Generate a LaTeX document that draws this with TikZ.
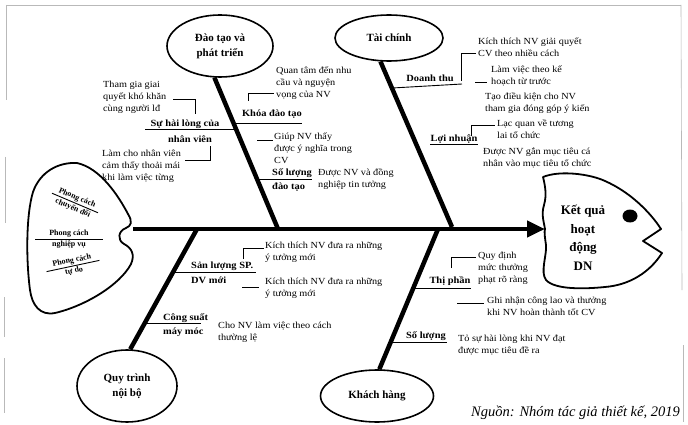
\documentclass[tikz,border=0pt]{standalone}
\usepackage{fontspec}
\setmainfont{Liberation Serif}
\newfontfamily\notefont[FakeStretch=1.1]{Liberation Serif}
\usetikzlibrary{shapes.geometric,arrows.meta}
\begin{document}
\begin{tikzpicture}[x=1pt,y=-1pt,
  bone/.style={line width=4.5pt},
  twig/.style={line width=0.9pt},
  conn/.style={line width=0.7pt},
  outline/.style={line width=1.8pt, line join=round},
  cat/.style={draw, line width=1.6pt, ellipse, inner sep=0pt, align=center, font=\fontsize{11}{15}\selectfont\bfseries},
  lbl/.style={inner sep=0pt, font=\notefont\fontsize{9.5}{11}\selectfont\bfseries},
  note/.style={inner sep=0pt, align=left, anchor=north west, font=\notefont\fontsize{9.3}{12}\selectfont},
  tailtxt/.style={inner sep=1.5pt, transform shape, font=\fontsize{8}{9}\selectfont\bfseries},
  frameline/.style={gray!55, line width=0.6pt}
]
\fill[white] (0,0) rectangle (688,425);
\useasboundingbox (0,0) rectangle (688,425);

% scan frame remnants
\draw[frameline] (6,5) -- (681,5);
\draw[frameline] (6,5) -- (6,100);
\draw[frameline] (5,157) -- (5,223);
\draw[frameline] (4,297) -- (4,337);
\draw[frameline] (4,358) -- (4,413);
\draw[frameline] (681,5) -- (682,290);
\draw[frameline] (683,345) -- (683,422);

% category ellipses
\node[cat, minimum width=106pt, minimum height=62pt] (dt) at (220,46) {Đào tạo và\\phát triển};
\node[cat, minimum width=108pt, minimum height=46pt] (tc) at (389,38) {Tài chính};
\node[cat, minimum width=100pt, minimum height=72pt] (qt) at (127,386) {Quy trình\\nội bộ};
\node[cat, minimum width=113pt, minimum height=52pt] (kh) at (377,396) {Khách hàng};

% tail
\draw[outline] (77,163) .. controls (100,168) and (118,195) .. (128,214)
  .. controls (133,222) and (131,226) .. (126,228)
  .. controls (118,231) and (117,240) .. (124,244)
  .. controls (132,248) and (135,255) .. (131,264)
  .. controls (120,285) and (85,306) .. (55,313)
  .. controls (40,316) and (32,305) .. (30,290)
  .. controls (26,260) and (26,215) .. (33,192)
  .. controls (40,172) and (58,162) .. (77,163) -- cycle;

\begin{scope}[shift={(75,203)}, rotate=-23]
  \coordinate (t1l) at (-25,0); \coordinate (t1r) at (25,0);
  \draw[twig] (t1l) -- (t1r);
  \node[tailtxt, anchor=south] (t1a) at (0,0) {Phong cách};
  \node[tailtxt, anchor=north] (t1b) at (0,0) {chuyển đổi};
\end{scope}
\begin{scope}[shift={(69,239)}]
  \coordinate (t2l) at (-34,0); \coordinate (t2r) at (34,0);
  \draw[twig] (t2l) -- (t2r);
  \node[tailtxt, anchor=south] (t2a) at (0,0) {Phong cách};
  \node[tailtxt, anchor=north] (t2b) at (0,0) {nghiệp vụ};
\end{scope}
\begin{scope}[shift={(73,266)}, rotate=12]
  \coordinate (t3l) at (-27,0); \coordinate (t3r) at (27,0);
  \draw[twig] (t3l) -- (t3r);
  \node[tailtxt, anchor=south] (t3a) at (0,0) {Phong cách};
  \node[tailtxt, anchor=north] (t3b) at (0,0) {tự do};
\end{scope}

% head
\draw[outline] (543,177) .. controls (560,170) and (590,174) .. (605,181)
  .. controls (630,192) and (650,212) .. (661,229) -- (643,241) -- (662,253)
  .. controls (650,272) and (630,285) .. (605,287)
  .. controls (585,289) and (555,290) .. (546,280)
  .. controls (540,272) and (547,255) .. (546,245)
  .. controls (545,238) and (544,232) .. (545,229)
  .. controls (544,222) and (541,215) .. (544,205)
  .. controls (547,195) and (545,185) .. (543,177) -- cycle;
\fill (630,216) ellipse [x radius=7.5pt, y radius=6.5pt];
\node[align=center, inner sep=0pt, font=\fontsize{13}{18.5}\selectfont\bfseries] (res) at (583,238) {Kết quả\\hoạt\\động\\DN};

% spine
\coordinate (tailend) at (133,229);
\coordinate (headtip) at (545,229);
\draw[line width=4.5pt, -{Triangle[length=18pt,width=16pt]}] (tailend) -- (headtip);

% bones
\coordinate (sA) at (278,229);
\coordinate (sB) at (452,227);
\coordinate (sC) at (197,229);
\coordinate (sD) at (438,229);
\draw[bone] (dt.-100) -- (sA);
\draw[bone] (tc.-110) -- (sB);
\draw[bone] (sC) -- (qt.85);
\draw[bone] (sD) -- (kh.85);

% twigs
\coordinate (a1) at (236.4,129); \coordinate (a1e) at (145,129);
\coordinate (a2) at (233.8,123); \coordinate (a2e) at (302,123);
\coordinate (a3) at (257.2,179); \coordinate (a3e) at (312,179);
\coordinate (b1) at (392.4,88); \coordinate (b1e) at (462,84);
\coordinate (c1) at (173.2,272); \coordinate (c1e) at (256,272);
\coordinate (c2) at (145,323); \coordinate (c2e) at (201,323);
\coordinate (d1) at (413.5,288); \coordinate (d1e) at (471,288);
\coordinate (d2) at (391,342); \coordinate (d2e) at (447,342);
\draw[twig] (a1) -- (a1e);
\draw[twig] (a2) -- (a2e);
\draw[twig] (a3) -- (a3e);
\draw[twig] (b1) -- (b1e);
\draw[twig] (c1) -- (c1e);
\draw[twig] (c2) -- (c2e);
\draw[twig] (d1) -- (d1e);
\draw[twig] (d2) -- (d2e);

% branch labels
\node[lbl] (L1a) at (185,124) {Sự hài lòng của};
\node[lbl] (L1b) at (190,139) {nhân viên};
\node[lbl] (L2) at (272,114) {Khóa đào tạo};
\node[lbl, anchor=west] (L3a) at (272,173) {Số lượng};
\node[lbl, anchor=west] (L3b) at (272,187) {đào tạo};
\node[lbl] (L4) at (430,78) {Doanh thu};
\node[lbl] (L5) at (454,139) {Lợi nhuận};
\draw[twig] ([yshift=-1pt]L5.south west) -- ([yshift=-1pt]L5.south east);
\node[lbl, anchor=west] (L6a) at (191,266) {Sản lượng SP.};
\node[lbl, anchor=west] (L6b) at (191,280) {DV mới};
\node[lbl, anchor=west] (L7a) at (163,318) {Công suất};
\node[lbl, anchor=west] (L7b) at (163,332) {máy móc};
\node[lbl] (L8) at (450,281) {Thị phần};
\node[lbl] (L9) at (426,336) {Số lượng};

% notes
\node[note] (n1) at (103,81) {Tham gia giai\\quyết khó khăn\\cùng người lđ};
\node[note] (n2) at (102,150) {Làm cho nhân viên\\cảm thấy thoải mái\\khi làm việc từng};
\node[note] (n3) at (276,67) {Quan tâm đến nhu\\cầu và nguyện\\vọng của NV};
\node[note] (n4) at (274,133) {Giúp NV thấy\\được ý nghĩa trong\\CV};
\node[note] (n5) at (318,169) {Được NV và đồng\\nghiệp tin tưởng};
\node[note] (n6) at (478,38) {Kích thích NV giải quyết\\CV theo nhiều cách};
\node[note] (n7) at (491,66) {Làm việc theo kế\\hoạch từ trước};
\node[note] (n8) at (485,93) {Tạo điều kiện cho NV\\tham gia đóng góp ý kiến};
\node[note] (n9) at (497,120) {Lạc quan về tương\\lai tổ chức};
\node[note] (n10) at (483,148) {Được NV gắn mục tiêu cá\\nhân vào mục tiêu tổ chức};
\node[note] (n11) at (265,242) {Kích thích NV đưa ra những\\ý tưởng mới};
\node[note] (n12) at (265,278) {Kích thích NV đưa ra những\\ý tưởng mới};
\node[note] (n13) at (218,322) {Cho NV làm việc theo cách\\thường lệ};
\node[note] (n14) at (478,252) {Quy định\\mức thưởng\\phạt rõ ràng};
\node[note] (n15) at (487,297) {Ghi nhận công lao và thưởng\\khi NV hoàn thành tốt CV};
\node[note] (n16) at (458,335) {Tỏ sự hài lòng khi NV đạt\\được mục tiêu đề ra};

% connectors
\coordinate (k1a) at (173,99); \coordinate (k1b) at (195,99); \coordinate (k1c) at (195,114);
\draw[conn] (k1a) -- (k1b) -- (k1c);
\coordinate (k2a) at (185,160); \coordinate (k2b) at (210,160); \coordinate (k2c) at (210,146);
\draw[conn] (k2a) -- (k2b) -- (k2c);
\coordinate (k3a) at (248,101); \coordinate (k3b) at (248,93); \coordinate (k3c) at (274,93);
\draw[conn] (k3a) -- (k3b) -- (k3c);
\coordinate (k4a) at (257,140); \coordinate (k4b) at (273,140);
\draw[conn] (k4a) -- (k4b);
\coordinate (k5a) at (476,53); \coordinate (k5b) at (461,53); \coordinate (k5c) at (461,81);
\draw[conn] (k5a) -- (k5b) -- (k5c);
\coordinate (k6a) at (475,82); \coordinate (k6b) at (487,82);
\draw[conn] (k6a) -- (k6b);
\coordinate (k7a) at (471,136); \coordinate (k7b) at (471,125); \coordinate (k7c) at (495,125);
\draw[conn] (k7a) -- (k7b) -- (k7c);
\coordinate (k8a) at (243,259); \coordinate (k8b) at (243,248); \coordinate (k8c) at (264,248);
\draw[conn] (k8a) -- (k8b) -- (k8c);
\coordinate (k9a) at (242,287); \coordinate (k9b) at (259,287);
\draw[conn] (k9a) -- (k9b);
\coordinate (k10a) at (451,268); \coordinate (k10b) at (451,257); \coordinate (k10c) at (476,257);
\draw[conn] (k10a) -- (k10b) -- (k10c);
\coordinate (k11a) at (457,303); \coordinate (k11b) at (484,303);
\draw[conn] (k11a) -- (k11b);

% source
\node[inner sep=0pt, anchor=east, font=\fontsize{14.5}{17}\selectfont\itshape] (src) at (680,413) {Nguồn: Nhóm tác giả thiết kế, 2019};
\end{tikzpicture}
\end{document}
